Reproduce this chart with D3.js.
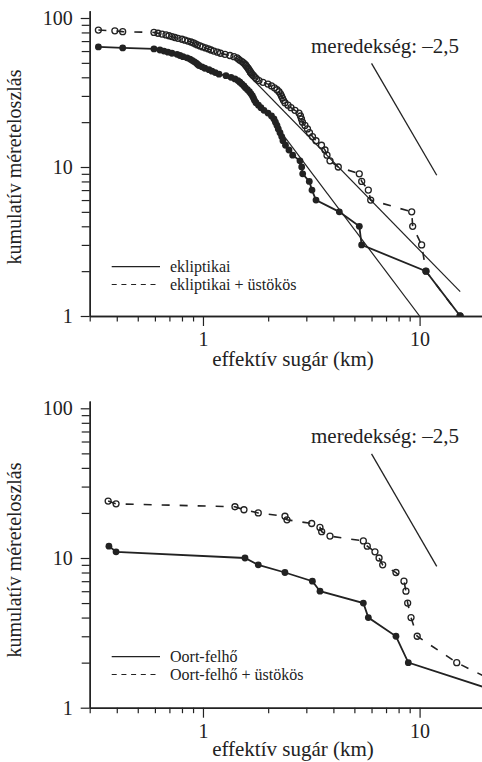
<!DOCTYPE html>
<html><head><meta charset="utf-8">
<script src="https://cdn.jsdelivr.net/npm/d3@7"></script>
<style>body{margin:0;background:#fff}svg{display:block}text{font-family:"Liberation Serif","Times New Roman",serif;fill:#222}</style>
</head><body><svg id="c" width="482" height="762"></svg>
<script>
// ---------- DATA: top panel (ekliptikai) ----------
const eclR = [0.329,0.426,0.594,0.633,0.661,0.689,0.719,0.759,0.783,0.809,0.844,0.871,0.890,0.909,0.928,0.943,0.958,0.989,1.02,1.066,1.10,1.14,1.186,1.277,1.347,1.405,1.45,1.48,1.513,1.546,1.571,1.605,1.639,1.666,1.692,1.711,1.729,1.757,1.804,1.852,1.912,1.996,2.072,2.127,2.161,2.196,2.227,2.268,2.309,2.34,2.404,2.495,2.595,2.804,2.856,2.886,3.096,3.186,3.325,4.26,5.27,5.40,10.7,15.4];
const eclN = [64,63,62,61,60,59,58,57,56,55,54,53,52,51,50,49,48,47,46,45,44,43,42,41,40,39,38,37,36,35,34,33,32,31,30,29,28,27,26,25,24,23,22,21,20,19,18,17,16,15,14,13,12,11,10,9,8,7,6,5,4,3,2,1];
const eclCometR = [0.329,0.392,0.426,0.594,0.620,0.647,0.675,0.697,0.719,0.742,0.767,0.800,0.826,0.852,0.880,0.904,0.923,0.943,0.969,0.995,1.027,1.060,1.089,1.124,1.167,1.205,1.264,1.332,1.390,1.436,1.458,1.482,1.514,1.538,1.563,1.579,1.596,1.614,1.631,1.648,1.666,1.684,1.711,1.739,1.766,1.814,1.892,1.996,2.072,2.138,2.196,2.243,2.279,2.303,2.328,2.353,2.391,2.469,2.549,2.659,2.774,2.819,2.849,2.880,2.957,3.037,3.102,3.203,3.325,3.525,3.659,3.737,3.858,4.214,5.267,5.404,5.799,5.947,9.195,9.292,10.22,10.70,15.37];
const eclCometN = [83,82,81,80,79,78,77,76,75,74,73,72,71,70,69,68,67,66,65,64,63,62,61,60,59,58,57,56,55,54,53,52,51,50,49,48,47,46,45,44,43,42,41,40,39,38,37,36,35,34,33,32,31,30,29,28,27,26,25,24,23,22,21,20,19,18,17,16,15,14,13,12,11,10,9,8,7,6,5,4,3,2,1];
const fitEclR = [1.5, 10], fitEclN = [38.9, 1];
const fitEclCometR = [1.6, 15.4], fitEclCometN = [42.3, 1.456];
const slopeR = [6.0, 12.0], slopeN = [49.6, 8.8];

// ---------- DATA: bottom panel (Oort-felhő) ----------
const oortR = [0.368,0.397,1.563,1.80,2.39,3.20,3.47,5.50,5.80,7.78,8.87,39];
const oortN = [12,11,10,9,8,7,6,5,4,3,2,1];
const oortCometR = [0.365,0.397,1.405,1.546,1.800,2.391,2.442,3.176,3.468,3.532,3.858,5.50,5.735,6.223,6.50,6.755,7.78,8.47,8.65,8.81,9.13,9.75,14.84,39];
const oortCometN = [24,23,22,21,20,19,18,17,16,15,14,13,12,11,10,9,8,7,6,5,4,3,2,1];

// ---------- ticks & labels ----------
const xMajor = [1, 10];
const xMinor = [0.3,0.4,0.5,0.6,0.7,0.8,0.9,2,3,4,5,6,7,8,9,20];
const yMajor = [1, 10, 100];
const yMinor = [2,3,4,5,6,7,8,9,20,30,40,50,60,70,80,90];
const xTitle = "effektív sugár (km)";
const yTitle = "kumulatív méreteloszlás";
const slopeLabel = "meredekség: –2,5";
const legendTop = ["ekliptikai", "ekliptikai + üstökös"];
const legendBottom = ["Oort-felhő", "Oort-felhő + üstökös"];

const svg = d3.select("#c");
const zip = (R, N) => R.map((r, i) => [r, N[i]]);

function panel(cfg) {
  const x = d3.scaleLog().domain([0.3, 20]).range([89.7, 484.8]);
  const y = d3.scaleLog().domain([1, 112]).range([cfg.y0, cfg.y0 - cfg.dec * Math.log10(112)]);
  const g = svg.append("g");
  const clipId = "clip" + cfg.id;
  svg.append("clipPath").attr("id", clipId).append("rect")
    .attr("x", 89.7).attr("y", y(112) - 5).attr("width", 482 - 89.7).attr("height", cfg.y0 - y(112) + 5);

  // axes
  const fmt = d => d3.format("d")(d);
  g.append("g").attr("transform", `translate(0,${cfg.y0})`)
    .call(d3.axisBottom(x).tickValues(xMinor).tickSize(5.5).tickSizeOuter(0).tickFormat(""));
  g.append("g").attr("transform", `translate(0,${cfg.y0})`)
    .call(d3.axisBottom(x).tickValues(xMajor).tickSize(10).tickSizeOuter(0).tickPadding(6).tickFormat(fmt));
  g.append("g").attr("transform", `translate(89.7,0)`)
    .call(d3.axisLeft(y).tickValues(yMinor).tickSize(8).tickSizeOuter(0).tickFormat(""));
  g.append("g").attr("transform", `translate(89.7,0)`)
    .call(d3.axisLeft(y).tickValues(yMajor).tickSize(9).tickSizeOuter(0).tickPadding(8).tickFormat(fmt));
  g.selectAll(".domain").attr("stroke", "#222").attr("stroke-width", 1.4);
  g.selectAll(".tick line").attr("stroke", "#222").attr("stroke-width", 1.2);
  g.selectAll(".tick text").style("font-size", "20px").attr("fill", "#222")
    .style("font-family", '"Liberation Serif","Times New Roman",serif');

  // titles
  g.append("text").attr("x", 293).attr("y", cfg.y0 + cfg.xTitleOff).attr("text-anchor", "middle")
    .style("font-size", "21px").text(xTitle);
  g.append("text").attr("transform", `translate(21,${cfg.yTitleC}) rotate(-90)`).attr("text-anchor", "middle")
    .style("font-size", "20px").text(yTitle);

  const line = d3.line().x(d => x(d[0])).y(d => y(d[1]));
  const plot = g.append("g").attr("clip-path", `url(#${clipId})`);

  // fit / slope lines
  (cfg.fits || []).forEach(f => {
    plot.append("path").datum(f).attr("d", line).attr("fill", "none").attr("stroke", "#222").attr("stroke-width", 1.2);
  });
  plot.append("path").datum(zip(slopeR, slopeN)).attr("d", line).attr("fill", "none").attr("stroke", "#222").attr("stroke-width", 1.3);

  // data lines
  const dashed = zip(cfg.dashR, cfg.dashN), solid = zip(cfg.solidR, cfg.solidN);
  plot.append("path").datum(dashed).attr("d", line).attr("fill", "none").attr("stroke", "#222")
    .attr("stroke-width", 1.6).attr("stroke-dasharray", "8,10");
  plot.append("path").datum(solid).attr("d", line).attr("fill", "none").attr("stroke", "#222").attr("stroke-width", 1.8);
  plot.selectAll(".o").data(dashed).enter().append("circle")
    .attr("cx", d => x(d[0])).attr("cy", d => y(d[1])).attr("r", 3)
    .attr("fill", "none").attr("stroke", "#222").attr("stroke-width", 1.3);
  plot.selectAll(".f").data(solid).enter().append("circle")
    .attr("cx", d => x(d[0])).attr("cy", d => y(d[1])).attr("r", 3.4).attr("fill", "#222");

  // slope label
  g.append("text").attr("x", 311).attr("y", cfg.slopeLabelY).style("font-size", "21px").text(slopeLabel);

  // legend
  const lg = g.append("g");
  cfg.legend.forEach((t, i) => {
    const ly = cfg.legendY + i * 17.8;
    lg.append("line").attr("x1", 111.7).attr("x2", 160).attr("y1", ly).attr("y2", ly)
      .attr("stroke", "#222").attr("stroke-width", 1.2).attr("stroke-dasharray", i ? "5,4.7" : null);
    lg.append("text").attr("x", 170).attr("y", ly + 5).style("font-size", "16px").text(t);
  });
}

panel({ id: "t", y0: 316, dec: 149, yTitleC: 167, xTitleOff: 50,
  solidR: eclR, solidN: eclN, dashR: eclCometR, dashN: eclCometN,
  fits: [zip(fitEclR, fitEclN), zip(fitEclCometR, fitEclCometN)],
  slopeLabelY: 53, legend: legendTop, legendY: 266.7 });
panel({ id: "b", y0: 707.7, dec: 149.7, yTitleC: 560, xTitleOff: 48,
  solidR: oortR, solidN: oortN, dashR: oortCometR, dashN: oortCometN,
  fits: [], slopeLabelY: 443, legend: legendBottom, legendY: 656.7 });
</script></body></html>
